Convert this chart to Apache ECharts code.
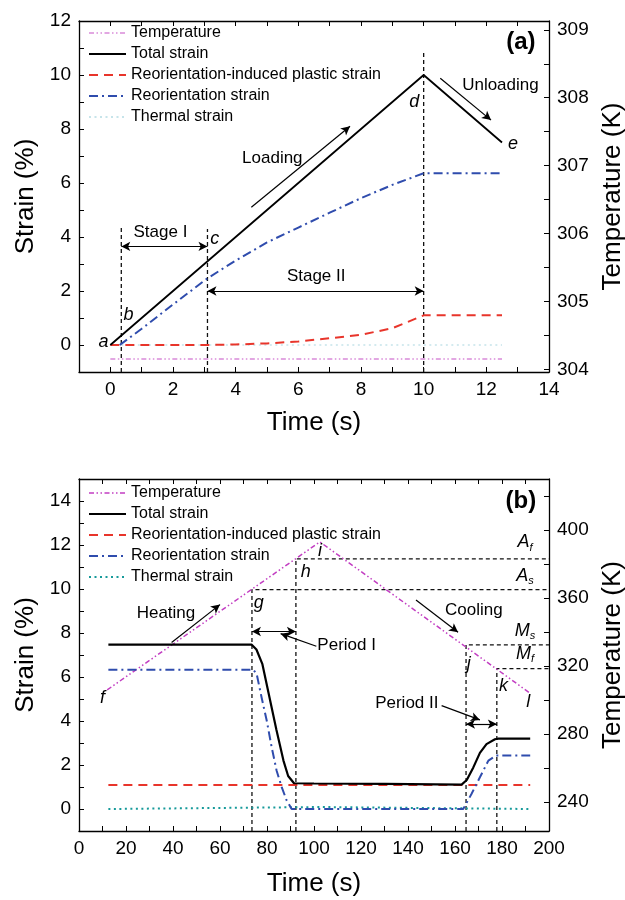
<!DOCTYPE html>
<html>
<head>
<meta charset="utf-8">
<script src="https://cdn.jsdelivr.net/npm/echarts@6/dist/echarts.min.js"></script>
<style>
html, body { margin: 0; padding: 0; background: #fff; }
#chart { width: 625px; height: 900px; }
</style>
</head>
<body>
<div id="chart"></div>
<script>
// panel (a): loading / unloading at constant temperature
var timeTotalA = [0, 10, 12.5];
var totalA = [0, 10, 7.5];
var timeReoA = [0.3, 1, 2, 3.1, 4, 5, 6, 7, 8, 9, 10, 12.5];
var reoA = [0, 0.6, 1.5, 2.47, 3.13, 3.8, 4.35, 4.9, 5.44, 5.93, 6.36, 6.36];
var timePlasticA = [0, 3, 4, 5, 6, 7, 8, 9, 10, 12.5];
var plasticA = [0, 0, 0.02, 0.06, 0.13, 0.25, 0.38, 0.62, 1.1, 1.1];
var timeFlatA = [0, 12.5];
var thermalA = [0, 0];
var tempA = [304.15, 304.15];

// panel (b): heating / cooling under constant stress
var timeTotalB = [12.5, 73.5, 75.5, 78, 81, 84, 87, 89, 91.5, 100, 130, 162.8, 165, 167.8, 170.6, 173.4, 177, 178.5, 192];
var totalB = [7.47, 7.47, 7.25, 6.6, 5.1, 3.6, 2.2, 1.5, 1.17, 1.16, 1.14, 1.11, 1.32, 1.89, 2.55, 2.95, 3.17, 3.2, 3.2];
var timeReoB = [12.5, 74.2, 75.6, 77.7, 79.9, 82, 84.1, 86.3, 88.4, 90.5, 163.5, 167, 170.6, 174.2, 177.5, 192];
var reoB = [6.33, 6.33, 6.14, 5.07, 4.01, 2.8, 1.74, 0.98, 0.38, 0, 0, 0.68, 1.44, 2.2, 2.43, 2.43];
var timePlasticB = [12.5, 192];
var plasticB = [1.09, 1.09];
var timeThermalB = [12.5, 102.5, 192];
var thermalB = [0, 0.09, 0];
var timeTempB = [12, 102.5, 192];
var tempB = [306, 393, 304];

// axis ranges and ticks
var xRangeA = [-1, 14], yRangeA = [-1, 12], tRangeA = [303.96, 309.13];
var xTicksA = [-1, 0, 1, 2, 3, 4, 5, 6, 7, 8, 9, 10, 11, 12, 13, 14];
var xLabelsA = [0, 2, 4, 6, 8, 10, 12, 14];
var yTicksA = [-1, 0, 1, 2, 3, 4, 5, 6, 7, 8, 9, 10, 11, 12];
var yLabelsA = [0, 2, 4, 6, 8, 10, 12];
var tTicksA = [304, 304.5, 305, 305.5, 306, 306.5, 307, 307.5, 308, 308.5, 309];
var tLabelsA = [304, 305, 306, 307, 308, 309];

var xRangeB = [0, 200], yRangeB = [-1, 15], tRangeB = [223, 430];
var xTicksB = [0, 10, 20, 30, 40, 50, 60, 70, 80, 90, 100, 110, 120, 130, 140, 150, 160, 170, 180, 190, 200];
var xLabelsB = [0, 20, 40, 60, 80, 100, 120, 140, 160, 180, 200];
var yTicksB = [-1, 0, 1, 2, 3, 4, 5, 6, 7, 8, 9, 10, 11, 12, 13, 14, 15];
var yLabelsB = [0, 2, 4, 6, 8, 10, 12, 14];
var tTicksB = [240, 260, 280, 300, 320, 340, 360, 380, 400, 420];
var tLabelsB = [240, 280, 320, 360, 400];

// stage boundaries in (a): time, top of dashed line
var stageTimesA = [0.35, 3.1, 10];
var stageTopsA = [4.4, 4.3, 10.9];
// transformation temperatures in (b): time where reached, temperature (As, Af, Ms, Mf)
var phaseTimesB = [73.6, 92.3, 164.7, 177.8];
var phaseTempsB = [365, 383, 332.5, 318.5];

// arrows: x1, y1, x2, y2, heads (1 = end, 2 = both)
var arrowsA = [
    [0.35, 3.65, 3.1, 3.65, 2],
    [3.1, 2, 10, 2, 2],
    [4.5, 5.1, 7.65, 8.1, 1],
    [10.53, 9.88, 12.15, 8.33, 1]
];
var arrowsB = [
    [73.6, 8.07, 92.3, 8.07, 2],
    [101, 7.4, 85.8, 7.97, 1],
    [164.7, 3.86, 177.8, 3.86, 2],
    [154.3, 4.7, 170.6, 4.05, 1],
    [39.4, 7.57, 60, 9.29, 1],
    [143.4, 9.5, 161.3, 8.03, 1]
];

// text notes
var notesA = [['Loading', 5.17, 6.9], ['Unloading', 12.45, 9.6], ['Stage I', 1.6, 4.17], ['Stage II', 6.57, 2.56]];
var lettersA = [['a', -0.22, 0.1], ['b', 0.58, 1.1], ['c', 3.33, 3.92], ['d', 9.7, 9.0], ['e', 12.85, 7.43]];
var notesB = [['Heating', 37, 8.9], ['Cooling', 168, 9.02], ['Period I', 113.9, 7.42], ['Period II', 139.5, 4.82]];
var lettersB = [['f', 10, 5.05], ['g', 76.5, 9.35], ['h', 96.5, 10.76], ['i', 102.6, 11.74], ['j', 165.8, 6.6], ['k', 180.6, 5.6], ['l', 191.2, 4.85]];
var phaseLabelsB = [['A', 'f', 189.8, 12.13], ['A', 's', 189.8, 10.6], ['M', 's', 189.8, 8.1], ['M', 'f', 189.8, 7.05]];
var panelA = ['(a)', 13.1, 11.22];
var panelB = ['(b)', 188, 14.0];

var names = ['Temperature', 'Total strain', 'Reorientation-induced plastic strain', 'Reorientation strain', 'Thermal strain'];

var font = "'Liberation Sans', Arial, sans-serif";
var cTempA = '#d98ad9', cTempB = '#c23ec2', cTotal = '#000', cPlastic = '#e8352b', cReo = '#2f4cad';
var cThermalA = '#c6e4ea', cThermalB = '#169a9a';
var dashTemp = [5, 2.5, 1.5, 2.5, 1.5, 2.5];
var dashReo = [9, 4, 2, 4];
var dashPlastic = [9, 6];
var dashThermal = [2, 3.5];
var dashRef = [4, 3];
var clear = 'rgba(0,0,0,0)';

function pairs(xs, ys) {
    var out = [];
    for (var i = 0; i < xs.length; i++) {
        out.push([xs[i], ys[i]]);
    }
    return out;
}

function axis(grid, pos, range, ticks, labels, name, gap) {
    var a = {
        type: 'value',
        gridIndex: grid,
        position: pos,
        min: range[0],
        max: range[1],
        axisLine: { onZero: false, lineStyle: { color: '#000', width: 1.3 } },
        axisTick: { inside: true, length: 5, customValues: ticks, lineStyle: { color: '#000', width: 1 } },
        axisLabel: { show: !!labels, customValues: labels || [], margin: 8, color: '#000', fontSize: 19, fontFamily: font },
        splitLine: { show: false }
    };
    if (name) {
        a.name = name;
        a.nameLocation = 'middle';
        a.nameGap = gap;
        a.nameTextStyle = { fontSize: 26, color: '#000', fontFamily: font };
        if (pos == 'left' || pos == 'right') a.nameRotate = 90;
    }
    return a;
}

function line(name, x, y, xi, yi, color, width, dash, z) {
    return {
        name: name, type: 'line', xAxisIndex: xi, yAxisIndex: yi,
        data: pairs(x, y), symbol: 'none', showSymbol: false, z: z || 2,
        lineStyle: { color: color, width: width, type: dash || 'solid' },
        itemStyle: { color: color },
        animation: false, silent: true
    };
}

function refLines(points, xi, yi) {
    return {
        type: 'line', xAxisIndex: xi, yAxisIndex: yi, data: points,
        symbol: 'none', lineStyle: { color: '#111', width: 1.3, type: dashRef },
        animation: false, silent: true, z: 1
    };
}

function arrowSeries(list, xi, yi) {
    var data = [];
    list.forEach(function (a) {
        data.push([
            { coord: [a[0], a[1]], symbol: a[4] == 2 ? 'arrow' : 'none', symbolSize: [7, 9] },
            { coord: [a[2], a[3]], symbol: 'arrow', symbolSize: [7, 9] }
        ]);
    });
    return {
        type: 'line', xAxisIndex: xi, yAxisIndex: yi, data: [], animation: false, silent: true,
        markLine: {
            silent: true, animation: false, precision: 4,
            lineStyle: { color: '#000', width: 1.2, type: 'solid' },
            label: { show: false },
            emphasis: { disabled: true },
            data: data
        }
    };
}

function textSeries(list, xi, yi, style) {
    return {
        type: 'scatter', xAxisIndex: xi, yAxisIndex: yi, symbolSize: 1, silent: true, animation: false, z: 5,
        itemStyle: { color: clear },
        data: list.map(function (n) { return { name: n[0], value: [n[1], n[2]] }; }),
        label: Object.assign({
            show: true, position: 'inside', formatter: '{b}', color: '#000', opacity: 1,
            textBorderWidth: 0, fontFamily: font
        }, style)
    };
}

var seriesList = [];

// ---- panel (a)
stageTimesA.forEach(function (t, i) {
    seriesList.push(refLines([[t, yRangeA[0]], [t, stageTopsA[i]]], 0, 0));
});
seriesList.push(line(names[0], timeFlatA, tempA, 0, 1, cTempA, 1.5, dashTemp));
seriesList.push(line(names[4], timeFlatA, thermalA, 0, 0, cThermalA, 1.5, dashThermal));
seriesList.push(line(names[2], timePlasticA, plasticA, 0, 0, cPlastic, 2, dashPlastic));
seriesList.push(line(names[3], timeReoA, reoA, 0, 0, cReo, 2, dashReo));
seriesList.push(line(names[1], timeTotalA, totalA, 0, 0, cTotal, 1.8, 'solid', 3));
seriesList.push(arrowSeries(arrowsA, 0, 0));
seriesList.push(textSeries(notesA, 0, 0, { fontSize: 17 }));
seriesList.push(textSeries(lettersA, 0, 0, { fontSize: 18, fontStyle: 'italic' }));
seriesList.push(textSeries([panelA], 0, 0, { fontSize: 24, fontWeight: 'bold' }));

// ---- panel (b)
phaseTimesB.forEach(function (t, i) {
    seriesList.push(refLines([[t, tRangeB[0]], [t, phaseTempsB[i]], [xRangeB[1], phaseTempsB[i]]], 2, 3));
});
seriesList.push(line(names[0], timeTempB, tempB, 2, 3, cTempB, 1.5, dashTemp));
seriesList.push(line(names[4], timeThermalB, thermalB, 2, 2, cThermalB, 2, dashThermal));
seriesList.push(line(names[2], timePlasticB, plasticB, 2, 2, cPlastic, 2, dashPlastic));
seriesList.push(line(names[3], timeReoB, reoB, 2, 2, cReo, 2, dashReo));
seriesList.push(line(names[1], timeTotalB, totalB, 2, 2, cTotal, 2.2, 'solid', 3));
seriesList.push(arrowSeries(arrowsB, 2, 2));
seriesList.push(textSeries(notesB, 2, 2, { fontSize: 17 }));
seriesList.push(textSeries(lettersB, 2, 2, { fontSize: 18, fontStyle: 'italic' }));
seriesList.push(textSeries([panelB], 2, 2, { fontSize: 24, fontWeight: 'bold' }));
seriesList.push({
    type: 'scatter', xAxisIndex: 2, yAxisIndex: 2, symbolSize: 1, silent: true, animation: false, z: 5,
    itemStyle: { color: clear },
    data: phaseLabelsB.map(function (p) { return { name: '{m|' + p[0] + '}{s|' + p[1] + '}', value: [p[2], p[3]] }; }),
    label: {
        show: true, position: 'inside', formatter: '{b}', opacity: 1, textBorderWidth: 0,
        rich: {
            m: { fontSize: 18, fontStyle: 'italic', color: '#000', fontFamily: font, lineHeight: 22 },
            s: { fontSize: 11, fontStyle: 'italic', color: '#000', fontFamily: font, lineHeight: 10, verticalAlign: 'bottom' }
        }
    }
});

function legendData(tempColor, thermalColor) {
    return [
        { name: names[0], lineStyle: { color: tempColor, type: dashTemp, width: 1.5 } },
        { name: names[1] },
        { name: names[2] },
        { name: names[3] },
        { name: names[4], lineStyle: { color: thermalColor, type: dashThermal, width: 2 } }
    ];
}

var legendBase = {
    orient: 'vertical', left: 88, itemWidth: 37, itemHeight: 10, itemGap: 5,
    selectedMode: false, padding: 0,
    itemStyle: { color: clear, borderColor: clear, borderWidth: 0, opacity: 0 },
    textStyle: { fontSize: 16, color: '#000', fontFamily: font }
};

var option = {
    backgroundColor: '#fff',
    animation: false,
    legend: [
        Object.assign({ top: 25, data: legendData(cTempA, cThermalA) }, legendBase),
        Object.assign({ top: 485, data: legendData(cTempB, cThermalB) }, legendBase)
    ],
    grid: [
        { left: 79, top: 21, width: 470, height: 351, outerBoundsMode: 'none', containLabel: false },
        { left: 79, top: 479, width: 470, height: 352, outerBoundsMode: 'none', containLabel: false }
    ],
    xAxis: [
        axis(0, 'bottom', xRangeA, xTicksA, xLabelsA, 'Time (s)', 38),
        axis(0, 'top', xRangeA, xTicksA, null),
        axis(1, 'bottom', xRangeB, xTicksB, xLabelsB, 'Time (s)', 40),
        axis(1, 'top', xRangeB, xTicksB, null)
    ],
    yAxis: [
        axis(0, 'left', yRangeA, yTicksA, yLabelsA, 'Strain (%)', 38),
        axis(0, 'right', tRangeA, tTicksA, tLabelsA, 'Temperature (K)', 46),
        axis(1, 'left', yRangeB, yTicksB, yLabelsB, 'Strain (%)', 38),
        axis(1, 'right', tRangeB, tTicksB, tLabelsB, 'Temperature (K)', 46)
    ],
    series: seriesList
};

var chart = echarts.init(document.getElementById('chart'));
chart.setOption(option);
</script>
</body>
</html>
